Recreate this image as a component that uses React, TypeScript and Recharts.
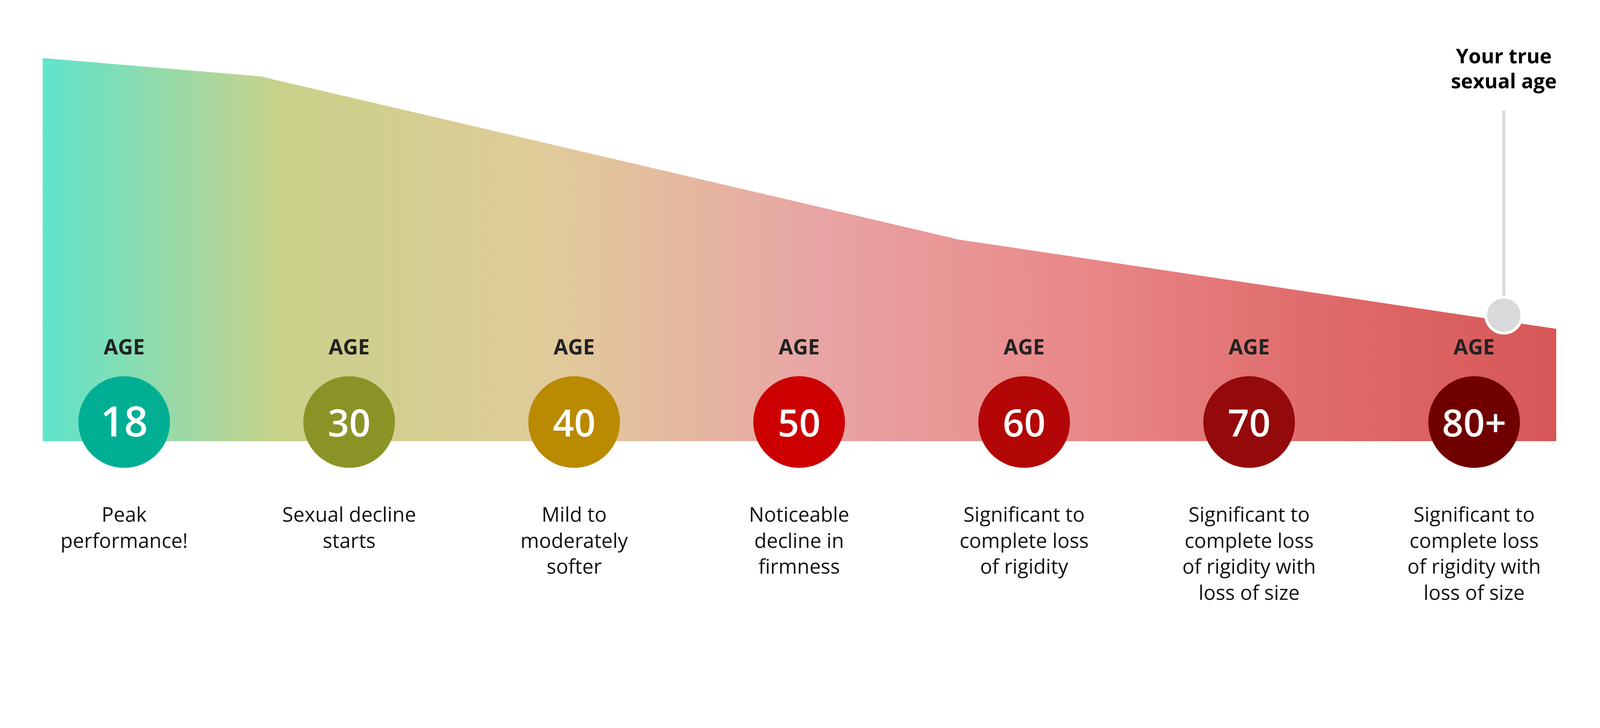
import React from 'react';
import { ComposedChart, Area, Scatter, Line, XAxis, YAxis } from 'recharts';

// Curve of sexual performance (x = stage position, 0 = age 18 ... 6 = age 80+)
const areaX = [-0.362, 0.606, 3.711, 6.365];
const areaY = [100, 95.2, 52.6, 29.3];

// Stages
const ageLabels = ['18', '30', '40', '50', '60', '70', '80+'];
const descriptions = [
  ['Peak', 'performance!'],
  ['Sexual decline', 'starts'],
  ['Mild to', 'moderately', 'softer'],
  ['Noticeable', 'decline in', 'firmness'],
  ['Significant to', 'complete loss', 'of rigidity'],
  ['Significant to', 'complete loss', 'of rigidity with', 'loss of size'],
  ['Significant to', 'complete loss', 'of rigidity with', 'loss of size'],
];
const circleColors = ['#00AF93', '#8A9426', '#BA8A00', '#CC0000', '#B30707', '#940909', '#700000'];

// "Your true sexual age" marker
const markerPos = 6.132;
const markerLevel = 32.9;
const markerTop = 86.3;
const markerTitle = ['Your true', 'sexual age'];

// Area fill gradient
const gradientOffsets = [0, 0.156, 0.337, 0.512, 0.674, 0.836, 1];
const gradientColors = ['#5EE4CC', '#C8D189', '#E1CB9A', '#E8A4A4', '#EA8A8A', '#E06C6C', '#D75757'];

const FONT = '"Open Sans", "Noto Sans", sans-serif';
const DESIGN_W = 4608;
const DESIGN_H = 1863;

const areaData = areaX.map((x, i) => ({ x, y: areaY[i] }));
const stageData = ageLabels.map((label, i) => ({
  x: i,
  y: 0,
  label,
  desc: descriptions[i],
  color: circleColors[i],
}));
const markerLine = [
  { x: markerPos, y: markerLevel },
  { x: markerPos, y: markerTop },
];
const markerDot = [{ x: markerPos, y: markerLevel }];
const markerHead = [{ x: markerPos, y: markerTop }];

const StageShape = (props: any) => {
  const { cx, cy, payload } = props;
  if (cx == null || cy == null) return null;
  const big = payload.label === '18';
  return (
    <g>
      <text x={cx} y={cy - 250} textAnchor="middle" fontFamily={FONT} fontWeight={700} fontSize={60} fill="#222222">
        AGE
      </text>
      <circle cx={cx} cy={cy - 55} r={132} fill={payload.color} />
      <text
        x={cx}
        y={cy - 13}
        textAnchor="middle"
        fontFamily={FONT}
        fontWeight={600}
        fontSize={big ? 120 : 108}
        fill="#FFFFFF"
      >
        {payload.label}
      </text>
      {payload.desc.map((line: string, k: number) => (
        <text
          key={k}
          x={cx}
          y={cy + 232 + 75 * k}
          textAnchor="middle"
          fontFamily={FONT}
          fontWeight={400}
          fontSize={58}
          fill="#111111"
        >
          {line}
        </text>
      ))}
    </g>
  );
};

const MarkerDotShape = (props: any) => {
  const { cx, cy } = props;
  if (cx == null || cy == null) return null;
  return <circle cx={cx} cy={cy} r={52} fill="#D9D9D9" stroke="#FFFFFF" strokeWidth={8} />;
};

const MarkerHeadShape = (props: any) => {
  const { cx, cy } = props;
  if (cx == null || cy == null) return null;
  return (
    <g>
      {markerTitle.map((line, k) => (
        <text
          key={k}
          x={cx}
          y={cy - 136 + 72 * k}
          textAnchor="middle"
          fontFamily={FONT}
          fontWeight={700}
          fontSize={58}
          fill="#000000"
        >
          {line}
        </text>
      ))}
    </g>
  );
};

export default function App() {
  const vw = typeof window !== 'undefined' && window.innerWidth ? window.innerWidth : DESIGN_W;
  const s = vw / DESIGN_W;
  return (
    <div
      style={{
        position: 'absolute',
        left: 0,
        top: 0,
        width: DESIGN_W * s,
        height: DESIGN_H * s,
        overflow: 'hidden',
        background: '#FFFFFF',
      }}
    >
      <div style={{ width: DESIGN_W, height: DESIGN_H, transform: `scale(${s})`, transformOrigin: '0 0' }}>
        <ComposedChart
          width={DESIGN_W}
          height={DESIGN_H}
          data={areaData}
          margin={{ top: 167, right: 126, bottom: 593, left: 123 }}
        >
          <defs>
            <linearGradient id="ageGradient" x1="0" y1="0" x2="1" y2="0">
              {gradientOffsets.map((o, i) => (
                <stop key={i} offset={o} stopColor={gradientColors[i]} />
              ))}
            </linearGradient>
          </defs>
          <XAxis type="number" dataKey="x" domain={['dataMin', 'dataMax']} hide />
          <YAxis type="number" domain={[0, 100]} hide />
          <Area
            type="linear"
            dataKey="y"
            data={areaData}
            stroke="none"
            fill="url(#ageGradient)"
            fillOpacity={1}
            isAnimationActive={false}
            dot={false}
            activeDot={false}
          />
          <Line
            type="linear"
            dataKey="y"
            data={markerLine}
            stroke="#DADADA"
            strokeWidth={9}
            dot={false}
            activeDot={false}
            isAnimationActive={false}
          />
          <Scatter data={stageData} dataKey="y" shape={StageShape} isAnimationActive={false} />
          <Scatter data={markerDot} dataKey="y" shape={MarkerDotShape} isAnimationActive={false} />
          <Scatter data={markerHead} dataKey="y" shape={MarkerHeadShape} isAnimationActive={false} />
        </ComposedChart>
      </div>
    </div>
  );
}
